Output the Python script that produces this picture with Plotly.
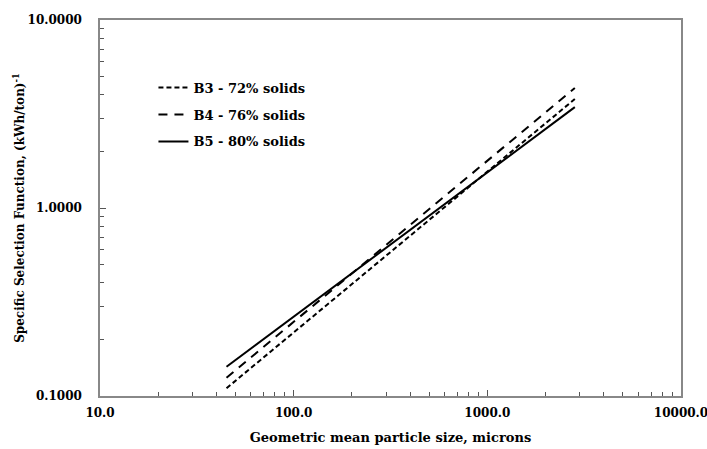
import plotly.graph_objects as go

# Data (log-log straight lines)
size_b3 = [45.0, 2830.0]
sel_b3 = [0.110, 3.80]
size_b4 = [45.0, 2830.0]
sel_b4 = [0.125, 4.35]
size_b5 = [45.0, 2830.0]
sel_b5 = [0.143, 3.44]

names = ["B3 - 72% solids", "B4 - 76% solids", "B5 - 80% solids"]

x_ticks = [10, 100, 1000, 10000]
y_ticks = [0.1, 1, 10]

font_family = "DejaVu Serif"

fig = go.Figure()
fig.add_trace(go.Scatter(x=size_b3, y=sel_b3, mode="lines", name=f"<b>{names[0]}</b>", legendgroup="a",
                         line=dict(color="black", width=2, dash="5px,3px")))
fig.add_trace(go.Scatter(x=size_b4, y=sel_b4, mode="lines", name=f"<b>{names[1]}</b>", legendgroup="b",
                         line=dict(color="black", width=2, dash="9px,7px")))
fig.add_trace(go.Scatter(x=size_b5, y=sel_b5, mode="lines", name=f"<b>{names[2]}</b>", legendgroup="c",
                         line=dict(color="black", width=2)))

minor_x = [m * 10 ** d for d in range(1, 4) for m in range(2, 10)]
minor_y = [m * 10 ** d for d in range(-1, 1) for m in range(2, 10)]

fig.update_layout(
    width=707, height=449,
    margin=dict(l=100, r=26, t=20, b=53, autoexpand=False),
    plot_bgcolor="white", paper_bgcolor="white",
    font=dict(family=font_family, size=13, color="black"),
    showlegend=True,
    legend=dict(x=0.092, y=0.86, xanchor="left", yanchor="top",
                bgcolor="rgba(0,0,0,0)", tracegroupgap=7,
                font=dict(family=font_family, size=13, color="black")),
    xaxis=dict(type="log", range=[1, 4], tickvals=x_ticks,
               ticktext=[f"<b>{v:.1f}</b>" for v in x_ticks],
               tickfont=dict(family=font_family, size=12, color="black"),
               ticks="inside", ticklen=6, tickcolor="#555", ticklabelstandoff=5,
               ticklabeloverflow="allow",
               showline=True, mirror=True, linecolor="#888", linewidth=1.5,
               showgrid=False, zeroline=False, automargin=False,
               minor=dict(tickvals=minor_x, ticks="inside", ticklen=4, tickcolor="#555", showgrid=False),
               title=dict(text="<b>Geometric mean particle size, microns</b>", standoff=14,
                          font=dict(family=font_family, size=13))),
    yaxis=dict(type="log", range=[-1, 1], tickvals=y_ticks,
               ticktext=[f"<b>{v:.4f}</b>" for v in y_ticks],
               tickfont=dict(family=font_family, size=12, color="black"),
               ticks="inside", ticklen=6, tickcolor="#555", ticklabelstandoff=14,
               ticklabeloverflow="allow",
               showline=True, mirror=True, linecolor="#888", linewidth=1.5,
               showgrid=False, zeroline=False, automargin=False,
               minor=dict(tickvals=minor_y, ticks="inside", ticklen=4, tickcolor="#555", showgrid=False),
               title=dict(text="<b>Specific Selection Function, (kWh/ton)<sup>-1</sup></b>", standoff=0,
                          font=dict(family=font_family, size=12))),
)

fig.write_html("out.html")
